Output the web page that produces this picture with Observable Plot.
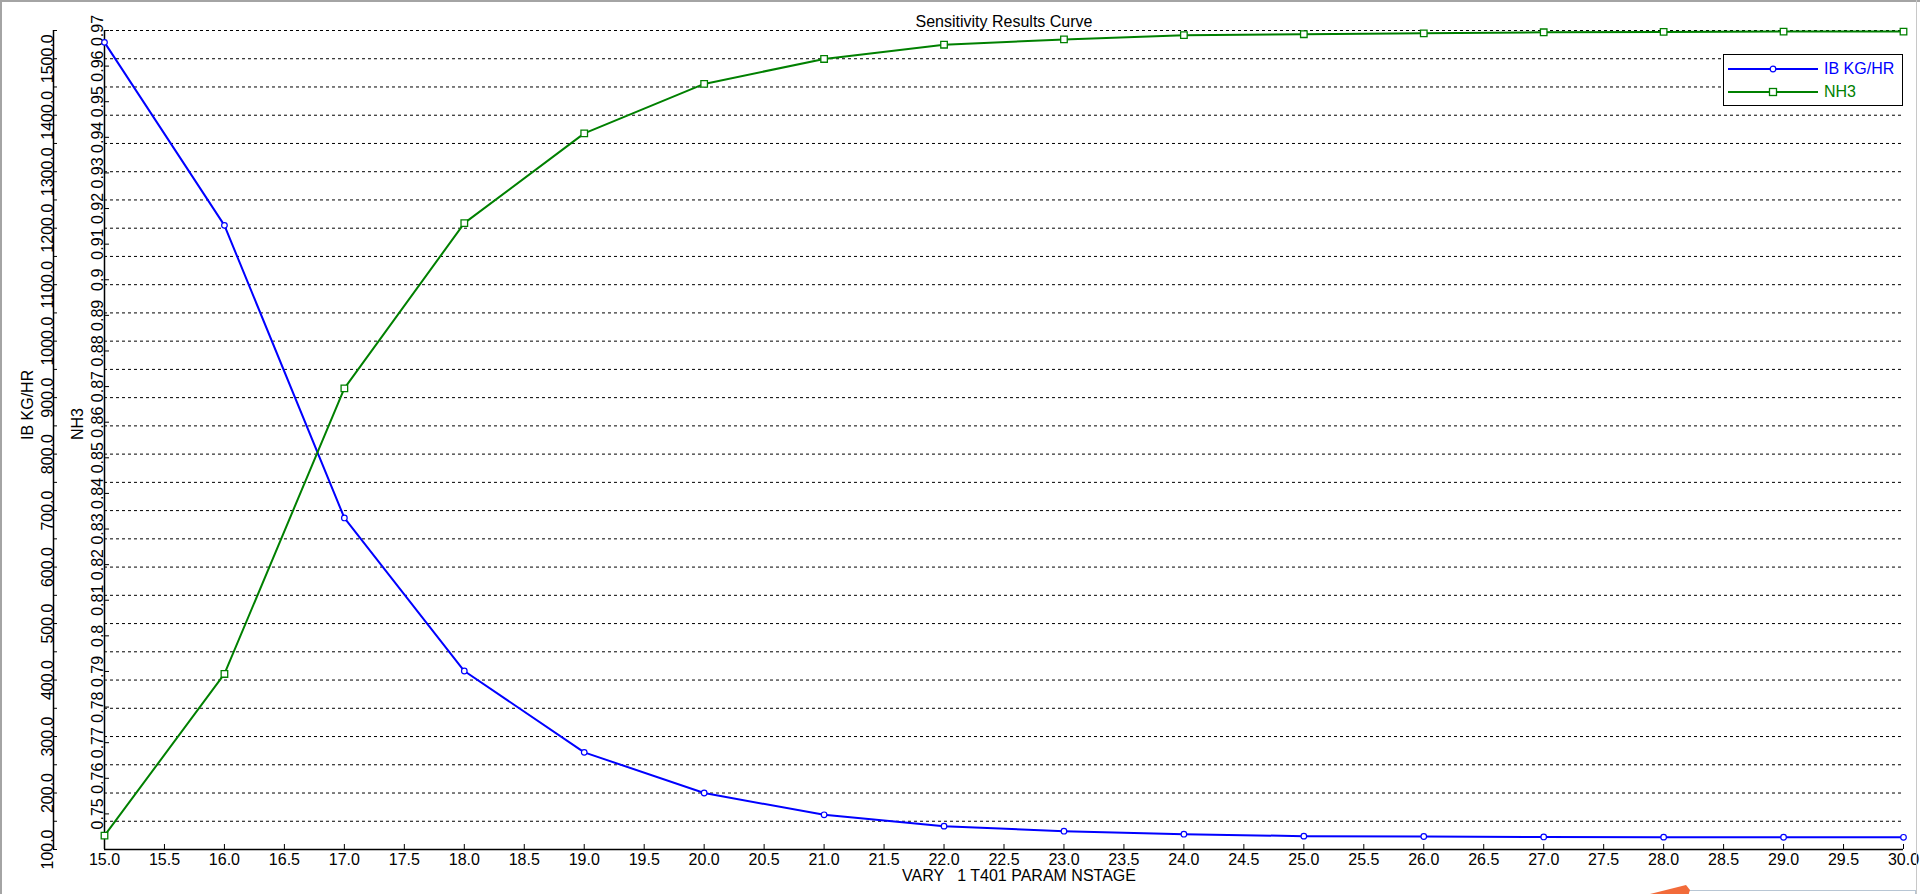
<!DOCTYPE html>
<html>
<head>
<meta charset="utf-8">
<script src="https://cdn.jsdelivr.net/npm/d3@7"></script>
<script src="https://cdn.jsdelivr.net/npm/@observablehq/plot@0.6"></script>
<style>
  html, body { margin: 0; padding: 0; background: #fff; }
  #wrap { position: relative; width: 1920px; height: 894px; overflow: hidden; background: #fff;
          font-family: "Liberation Sans", Arial, sans-serif; }
  #wrap svg.plot { position: absolute; left: 0; top: 0; }
  .border-top { position: absolute; left: 0; top: 0; width: 1920px; height: 2px; background: #a4a4a4; }
  .border-left { position: absolute; left: 0; top: 0; width: 2px; height: 894px; background: #a4a4a4; }
  .border-right { position: absolute; left: 1916px; top: 0; width: 1px; height: 894px; background: #c8c8c8; }
  #legend { position: absolute; left: 1723px; top: 54px; width: 178px; height: 50px; border: 1px solid #000;
            background: #fff; font-size: 16px; }
  #legend .row { position: absolute; left: 4px; height: 20px; display: flex; align-items: center; }
  #legend .row span { margin-left: 6px; white-space: nowrap; }
  .snip-box { position: absolute; left: 1688px; top: 890px; width: 226px; height: 10px; border: 1px solid #b8c6d4; background: #fff; }
  .snip-arrow { position: absolute; left: 1642px; top: 882px; }
</style>
</head>
<body>
<div id="wrap"></div>
<script>
// ---- data ----
const nstage = [15, 16, 17, 18, 19, 20, 21, 22, 23, 24, 25, 26, 27, 28, 29, 30];
const ibKgHr = [1529, 1205, 687, 416, 272, 200, 161.4, 141.3, 132.4, 127.1, 123.6, 123.0, 122.2, 121.9, 121.7, 121.6];
const nh3 = [0.7439, 0.7893, 0.8695, 0.9159, 0.9411, 0.9550, 0.9620, 0.9660, 0.9675, 0.9687, 0.96895, 0.9692, 0.9695, 0.9696, 0.9697, 0.9697];

const xTicks = d3.range(15, 30.001, 0.5);
const ibTicks = d3.range(100, 1551, 50);
const ibLabelTicks = d3.range(100, 1501, 100);
const nh3Ticks = d3.range(75, 98).map(d => d / 100);

const ibDomain = [100, 1550];
const nh3Domain = [0.74, 0.97];

const seriesNames = ["IB KG/HR", "NH3"];
const seriesColors = ["#0000ff", "#008000"];
const titleText = "Sensitivity Results Curve";
const xLabel = "VARY   1 T401 PARAM NSTAGE";

// NH3 is drawn against its own axis, mapped into the IB scale space
const toIB = v => ibDomain[0] + (v - nh3Domain[0]) / (nh3Domain[1] - nh3Domain[0]) * (ibDomain[1] - ibDomain[0]);
const fromIB = v => nh3Domain[0] + (v - ibDomain[0]) / (ibDomain[1] - ibDomain[0]) * (nh3Domain[1] - nh3Domain[0]);

const rows = nstage.map((x, i) => ({x, ib: ibKgHr[i], nh3: nh3[i], nh3y: toIB(nh3[i])}));

const plot = Plot.plot({
  width: 1920,
  height: 894,
  marginLeft: 104,
  marginRight: 17,
  marginTop: 30,
  marginBottom: 45,
  style: {fontFamily: "Liberation Sans, Arial, sans-serif", fontSize: "16px", background: "transparent", color: "#000"},
  x: {domain: [15, 30]},
  y: {domain: ibDomain},
  marks: [
    // dashed grid
    Plot.gridY(ibTicks.filter(d => d > ibDomain[0]), {stroke: "#000", strokeOpacity: 1, strokeDasharray: "3,3", strokeWidth: 1}),
    // axis lines
    Plot.ruleY([ibDomain[0]], {stroke: "#000", strokeWidth: 1.5}),
    Plot.ruleX([15], {stroke: "#000", strokeWidth: 1.5}),
    Plot.ruleX([15], {stroke: "#000", strokeWidth: 1.5, dx: -51}),
    // x axis
    Plot.axisX({ticks: xTicks, tickSize: -5, tickPadding: 9, tickFormat: d => d.toFixed(1), label: null, fontSize: 16}),
    // IB axis (outer left)
    Plot.axisY({ticks: ibTicks, tickSize: -4, tickFormat: () => "", dx: -51, label: null}),
    Plot.axisY({ticks: ibLabelTicks, tickSize: 0, tickPadding: 1, tickRotate: -90, tickFormat: d => d.toFixed(1), dx: -51, label: null, fontSize: 16}),
    // NH3 axis (inner left)
    Plot.axisY({ticks: nh3Ticks.map(toIB), tickSize: -5, tickFormat: () => "", label: null}),
    Plot.axisY({ticks: nh3Ticks.map(toIB), tickSize: 0, tickPadding: 1.5, tickRotate: -90,
                tickFormat: d => String(Math.round(fromIB(d) * 100) / 100), label: null, fontSize: 16}),
    // axis titles
    Plot.text([seriesNames[0]], {text: d => d, frameAnchor: "left", dx: -77, rotate: -90, fontSize: 16, fill: "#000"}),
    Plot.text([seriesNames[1]], {text: d => d, frameAnchor: "left", dx: -26.5, rotate: -90, fontSize: 16, fill: "#000"}),
    Plot.text([titleText], {text: d => d, frameAnchor: "top", dy: -15, fontSize: 16, fill: "#000"}),
    Plot.text([xLabel], {text: d => d, frameAnchor: "bottom", dy: 31, dx: 15, fontSize: 16, fill: "#000"}),
    // series
    Plot.line(rows, {x: "x", y: "ib", stroke: seriesColors[0], strokeWidth: 2}),
    Plot.line(rows, {x: "x", y: "nh3y", stroke: seriesColors[1], strokeWidth: 2}),
    Plot.dot(rows, {x: "x", y: "ib", r: 2.8, fill: "#fff", stroke: seriesColors[0], strokeWidth: 1.2}),
    Plot.dot(rows, {x: "x", y: "nh3y", symbol: "square", r: 3.7, fill: "#fff", stroke: seriesColors[1], strokeWidth: 1.3})
  ]
});
plot.classList.add("plot");

const wrap = document.getElementById("wrap");
wrap.appendChild(plot);

// legend
const legend = document.createElement("div");
legend.id = "legend";
seriesNames.forEach((name, i) => {
  const row = document.createElement("div");
  row.className = "row";
  row.style.top = (i === 0 ? 4 : 27) + "px";
  const marker = i === 0
    ? `<circle cx="45" cy="10" r="2.8" fill="#fff" stroke="${seriesColors[i]}" stroke-width="1.2"/>`
    : `<rect x="41.5" y="6.5" width="7" height="7" fill="#fff" stroke="${seriesColors[i]}" stroke-width="1.3"/>`;
  row.innerHTML = `<svg width="90" height="20"><line x1="0" y1="10" x2="90" y2="10" stroke="${seriesColors[i]}" stroke-width="2"/>${marker}</svg><span style="color:${seriesColors[i]}">${name}</span>`;
  legend.appendChild(row);
});
wrap.appendChild(legend);

// window frame / screenshot decorations
["border-top", "border-left", "border-right", "snip-box"].forEach(c => {
  const d = document.createElement("div"); d.className = c; wrap.appendChild(d);
});
const arrow = document.createElement("div");
arrow.className = "snip-arrow";
arrow.innerHTML = `<svg width="50" height="14"><polygon points="0,14 44,3 48,8 46,14" fill="#f26b3a"/></svg>`;
wrap.appendChild(arrow);
</script>
</body>
</html>
